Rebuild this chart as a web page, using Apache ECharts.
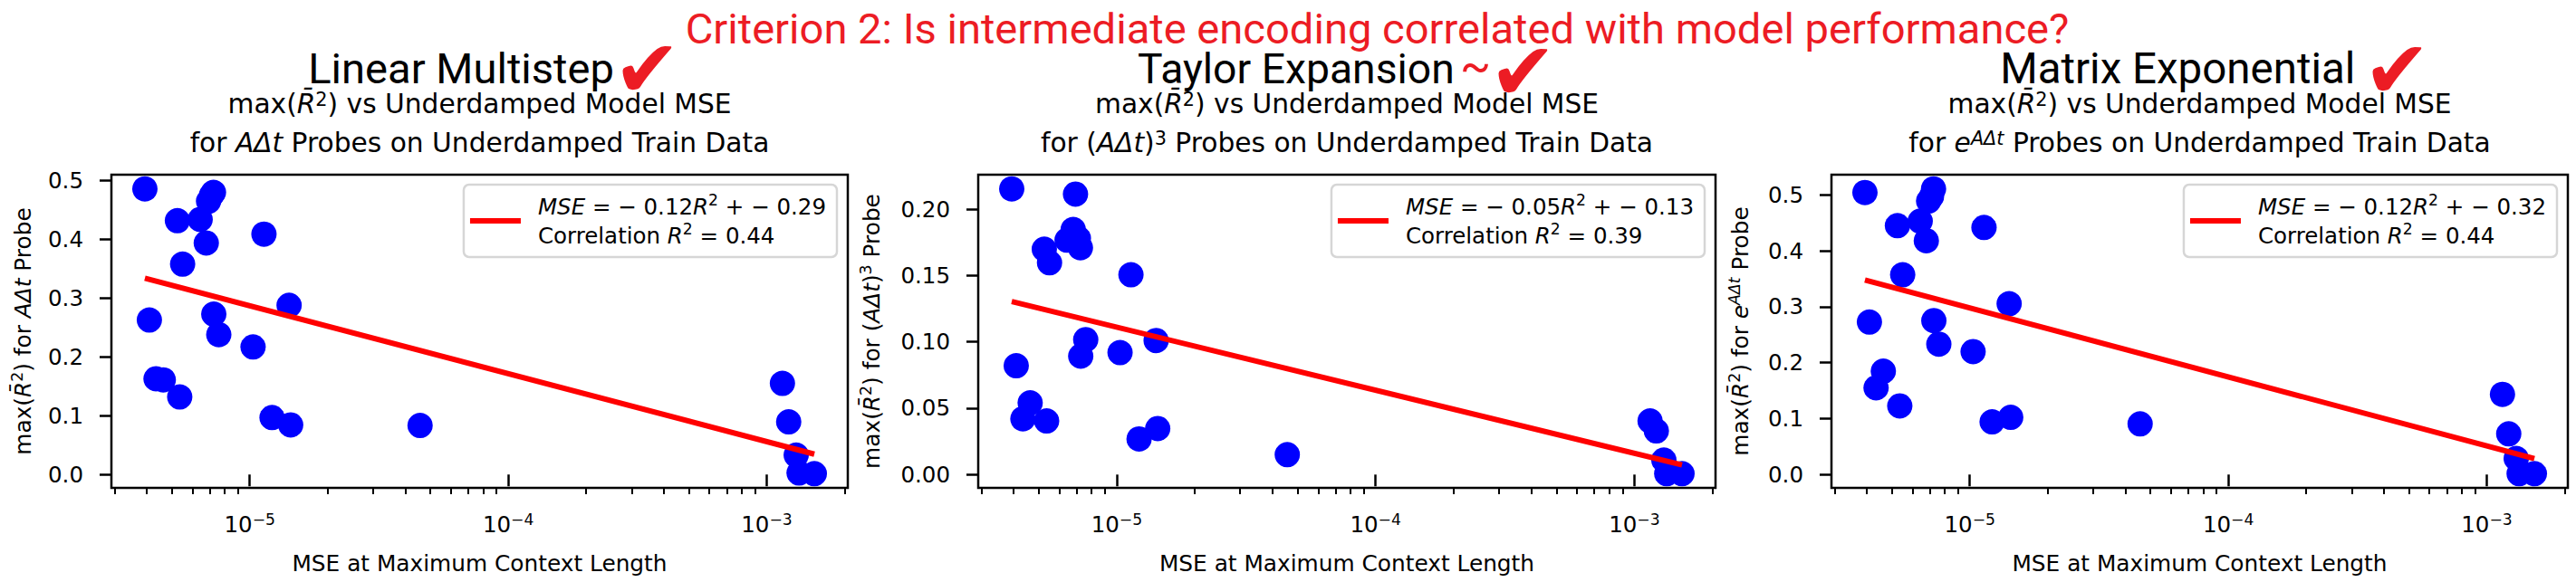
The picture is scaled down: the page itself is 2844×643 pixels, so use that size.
<!DOCTYPE html>
<html>
<head>
<meta charset="utf-8">
<script src="https://cdn.jsdelivr.net/npm/echarts@6/dist/echarts.min.js"></script>
<style>
  html, body { margin: 0; padding: 0; background: #fff; overflow: hidden; }
  #chart { width: 2844px; height: 643px; }
</style>
</head>
<body>
<div id="chart"></div>
<script>
// ---- data ----
// MSE at maximum context length, one value per model (same models in all panels)
var mse = [3.93e-6, 4.09e-6, 4.34e-6, 4.63e-6, 5.36e-6, 5.25e-6, 5.50e-6, 6.43e-6, 6.79e-6,
  6.93e-6, 7.11e-6, 7.24e-6, 7.26e-6, 7.59e-6, 1.03e-5, 1.135e-5, 1.22e-5, 1.44e-5, 1.42e-5,
  4.56e-5, 1.15e-3, 1.216e-3, 1.30e-3, 1.334e-3, 1.528e-3];
// max(R^2) for each probe
var r2Linear = [0.486, 0.263, 0.163, 0.161, 0.132, 0.432, 0.358, 0.434, 0.394, 0.465, 0.475,
  0.480, 0.273, 0.238, 0.217, 0.409, 0.097, 0.0845, 0.288, 0.0835, 0.155, 0.0897, 0.033, 0.0026, 0.0015];
var r2Taylor = [0.2152, 0.0820, 0.0420, 0.0540, 0.0404, 0.1698, 0.1596, 0.1766, 0.1846, 0.2113,
  0.178, 0.1709, 0.0892, 0.1017, 0.0919, 0.1505, 0.0268, 0.0347, 0.1010, 0.0150, 0.0404, 0.0329,
  0.0109, 0.0007, 0.0007];
var r2Matrix = [0.5043, 0.2726, 0.1552, 0.1848, 0.1228, 0.4450, 0.3572, 0.4531, 0.4181, 0.4892,
  0.4973, 0.5108, 0.2753, 0.2333, 0.2198, 0.4418, 0.0943, 0.1024, 0.3055, 0.0905, 0.1433, 0.0727,
  0.0286, 0.0016, 0.0016];

var yTicksLinear = [0, 0.1, 0.2, 0.3, 0.4, 0.5];
var yTicksTaylor = [0, 0.05, 0.10, 0.15, 0.20];
var yTicksMatrix = [0, 0.1, 0.2, 0.3, 0.4, 0.5];
var xMajorTicks = [1e-5, 1e-4, 1e-3];
var xMinorTicks = [3e-6, 4e-6, 5e-6, 6e-6, 7e-6, 8e-6, 9e-6,
  2e-5, 3e-5, 4e-5, 5e-5, 6e-5, 7e-5, 8e-5, 9e-5,
  2e-4, 3e-4, 4e-4, 5e-4, 6e-4, 7e-4, 8e-4, 9e-4, 2e-3];

// legend numbers as printed
var fitSlope = [-0.12, -0.05, -0.12];
var fitIntercept = [-0.29, -0.13, -0.32];
var fitR2 = [0.44, 0.39, 0.44];

var panelTitles = ['Linear Multistep', 'Taylor Expansion', 'Matrix Exponential'];
var superTitle = 'Criterion 2: Is intermediate encoding correlated with model performance?';

// ---- layout ----
var FONT = 'DejaVu Sans';
var TFONT = 'Roboto';
var RED = '#ec1c24';
var W = 2844;
var grids = [
  {left: 123, top: 193, width: 813, height: 346},
  {left: 1080, top: 193, width: 814, height: 346},
  {left: 2022, top: 193, width: 813, height: 346}
];
var legendRightEdge = [924, 1882, 2823];
var yNameGap = [83, 103, 86];

function lg(v) { return Math.log10(v); }

function padRange(arr) {
  var lo = Math.min.apply(null, arr), hi = Math.max.apply(null, arr);
  var m = (hi - lo) * 0.05;
  return [lo - m, hi + m];
}

// least squares of y on log10(x), drawn over the data's x range
function fitLine(xs, ys) {
  var n = xs.length, sx = 0, sy = 0, sxx = 0, sxy = 0;
  for (var i = 0; i < n; i++) {
    var x = lg(xs[i]);
    sx += x; sy += ys[i]; sxx += x * x; sxy += x * ys[i];
  }
  var a = (n * sxy - sx * sy) / (n * sxx - sx * sx);
  var b = (sy - a * sx) / n;
  var x0 = lg(Math.min.apply(null, xs)), x1 = lg(Math.max.apply(null, xs));
  return [[x0, a * x0 + b], [x1, a * x1 + b]];
}

function rich(fs, L) {
  return {
    it: {fontFamily: FONT, fontStyle: 'italic', fontSize: fs, lineHeight: L, color: '#000', fill: '#000'},
    sup: {fontFamily: FONT, fontSize: fs * 0.7, lineHeight: L - 0.39 * fs, verticalAlign: 'top', color: '#000', fill: '#000'},
    supit: {fontFamily: FONT, fontStyle: 'italic', fontSize: fs * 0.7, lineHeight: L - 0.39 * fs, verticalAlign: 'top', color: '#000', fill: '#000'},
    g: {fontFamily: FONT, fontSize: fs, lineHeight: L, width: 14}
  };
}

// measure ink extents so PowerPoint-style headings can be fitted to their box
var ctx = document.createElement('canvas').getContext('2d');
function inkPlace(text, family, targetW, cx, cy) {
  ctx.font = '100px ' + family;
  ctx.textBaseline = 'middle';
  var m = ctx.measureText(text);
  var fs = 100 * targetW / (m.actualBoundingBoxLeft + m.actualBoundingBoxRight);
  var k = fs / 100;
  var left = m.actualBoundingBoxLeft * k, right = m.actualBoundingBoxRight * k;
  var asc = m.actualBoundingBoxAscent * k, desc = m.actualBoundingBoxDescent * k;
  return {fs: fs, x: cx - (right - left) / 2, y: cy - (desc - asc) / 2};
}

function headText(text, family, color, targetW, cx, cy, L) {
  var p = inkPlace(text, family, targetW, cx, cy);
  return {
    type: 'text', x: p.x, y: p.y, silent: true,
    style: {text: text, fill: color, fontFamily: family, fontSize: p.fs, lineHeight: L,
      align: 'left', textAlign: 'left', verticalAlign: 'middle', textVerticalAlign: 'middle'}
  };
}

var SUB = 29.7, SUBL = 30;
function subText(text, cx, cy) {
  return {
    type: 'text', x: cx, y: cy, silent: true,
    style: {text: text, fill: '#000', fontFamily: FONT, fontSize: SUB, lineHeight: SUBL,
      align: 'center', textAlign: 'center', verticalAlign: 'middle', textVerticalAlign: 'middle',
      rich: rich(SUB, SUBL)}
  };
}

var panels = [
  {ys: r2Linear, ticks: yTicksLinear, dec: 1,
    sub2: 'for {it|AΔt} Probes on Underdamped Train Data',
    yname: 'max({it|R\u0304}{sup|2}) for {it|AΔt} Probe'},
  {ys: r2Taylor, ticks: yTicksTaylor, dec: 2,
    sub2: 'for ({it|AΔt}){sup|3} Probes on Underdamped Train Data',
    yname: 'max({it|R\u0304}{sup|2}) for ({it|AΔt}){sup|3} Probe'},
  {ys: r2Matrix, ticks: yTicksMatrix, dec: 1,
    sub2: 'for {it|e}{supit|AΔt} Probes on Underdamped Train Data',
    yname: 'max({it|R\u0304}{sup|2}) for {it|e}{supit|AΔt} Probe'}
];

var TICK = 24.5, TICKL = 29.4, LAB = 24.8, LABL = 30;
var xr = padRange(mse.map(lg));

var xAxes = [], yAxes = [], series = [], legends = [], graphics = [];

panels.forEach(function (p, i) {
  var g = grids[i];
  var yr = padRange(p.ys);
  var fitName = 'fit' + i;

  xAxes.push({
    type: 'value', gridIndex: i, position: 'bottom', min: xr[0], max: xr[1],
    axisLine: {show: false}, splitLine: {show: false},
    axisTick: {show: true, customValues: xMajorTicks.map(lg), length: 13, lineStyle: {color: '#000', width: 2.5}},
    axisLabel: {customValues: xMajorTicks.map(lg), margin: 26, color: '#000',
      fontFamily: FONT, fontSize: TICK, lineHeight: TICKL, rich: rich(TICK, TICKL),
      formatter: function (v) { return '10{sup|\u2212' + Math.round(-v) + '}'; }},
    name: 'MSE at Maximum Context Length', nameLocation: 'middle', nameGap: 68,
    nameTextStyle: {color: '#000', fontFamily: FONT, fontSize: LAB, lineHeight: LABL}
  });
  xAxes.push({
    type: 'value', gridIndex: i, position: 'bottom', min: xr[0], max: xr[1],
    axisLine: {show: false}, splitLine: {show: false}, axisLabel: {show: false},
    axisTick: {show: true, customValues: xMinorTicks.map(lg), length: 7, lineStyle: {color: '#000', width: 2}}
  });

  yAxes.push({
    type: 'value', gridIndex: i, min: yr[0], max: yr[1],
    axisLine: {show: false}, splitLine: {show: false},
    axisTick: {show: true, customValues: p.ticks, length: 13, lineStyle: {color: '#000', width: 2.5}},
    axisLabel: {customValues: p.ticks, margin: 31, color: '#000', fontFamily: FONT, fontSize: TICK,
      formatter: (function (d) { return function (v) { return v.toFixed(d); }; })(p.dec)},
    name: p.yname, nameLocation: 'middle', nameRotate: 90, nameGap: yNameGap[i],
    nameTextStyle: {color: '#000', fontFamily: FONT, fontSize: LAB, lineHeight: LABL, rich: rich(LAB, LABL)}
  });

  series.push({
    type: 'scatter', xAxisIndex: 2 * i, yAxisIndex: i, silent: true, z: 2,
    symbolSize: 28, itemStyle: {color: '#0000ff', opacity: 1},
    data: mse.map(function (m, k) { return [lg(m), p.ys[k]]; })
  });
  series.push({
    type: 'line', name: fitName, xAxisIndex: 2 * i, yAxisIndex: i, silent: true, z: 3,
    symbol: 'none', showSymbol: false,
    lineStyle: {color: '#ff0000', width: 6}, itemStyle: {color: '#ff0000'},
    data: fitLine(mse, p.ys)
  });

  var eq = '{g| }{it|MSE} = \u2212 ' + Math.abs(fitSlope[i]).toFixed(2) + '{it|R}{sup|2} + \u2212 ' +
    Math.abs(fitIntercept[i]).toFixed(2) + '\n{g| }Correlation {it|R}{sup|2} = ' + fitR2[i].toFixed(2);
  legends.push({
    data: [fitName], right: W - legendRightEdge[i], top: 204, orient: 'vertical',
    icon: 'rect', itemWidth: 56, itemHeight: 6, selectedMode: false,
    backgroundColor: 'rgba(255,255,255,0.8)', borderColor: '#d6d6d6', borderWidth: 2.5, borderRadius: 6,
    padding: [8, 12, 8, 7],
    formatter: (function (t) { return function () { return t; }; })(eq),
    textStyle: {color: '#000', fontFamily: FONT, fontSize: 24.5, lineHeight: 32, rich: rich(24.5, 32)}
  });

  var cx = g.left + g.width / 2;
  graphics.push(subText('max({it|R\u0304}{sup|2}) vs Underdamped Model MSE', cx, 114.4));
  graphics.push(subText(p.sub2, cx, 157.8));
});

// PowerPoint-style headings
graphics.push(headText(superTitle, TFONT, RED, 1524, 1521, 31, 38));
graphics.push(headText(panelTitles[0], TFONT, '#000', 332, 510, 75, 42));
graphics.push(headText(panelTitles[1], TFONT, '#000', 346, 1430, 75, 42));
graphics.push(headText(panelTitles[2], TFONT, '#000', 385, 2404.5, 75, 42));
graphics.push(headText('\u2714', FONT, RED, 55, 714.5, 67.5, 36));
graphics.push(headText('~', TFONT, RED, 28, 1629, 70, 20));
graphics.push(headText('\u2714', FONT, RED, 55, 1681.5, 71, 36));
graphics.push(headText('\u2714', FONT, RED, 55, 2646.5, 69, 36));

var chart = echarts.init(document.getElementById('chart'), null, {renderer: 'svg'});
chart.setOption({
  backgroundColor: '#ffffff',
  animation: false,
  grid: grids.map(function (g) {
    return {left: g.left, top: g.top, width: g.width, height: g.height, show: true,
      borderColor: '#000', borderWidth: 2.5, backgroundColor: 'transparent',
      containLabel: false, outerBoundsMode: 'none'};
  }),
  xAxis: xAxes,
  yAxis: yAxes,
  legend: legends,
  series: series,
  graphic: graphics
});
</script>
</body>
</html>
